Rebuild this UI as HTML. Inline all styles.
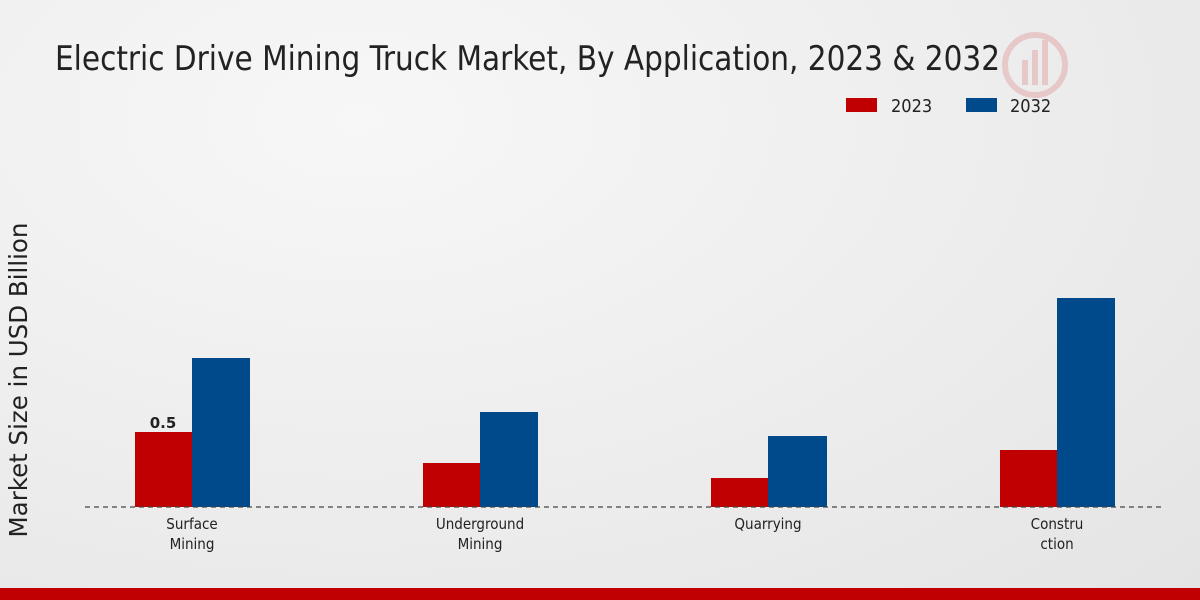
<!DOCTYPE html>
<html><head><meta charset="utf-8"><style>
html,body{margin:0;padding:0;width:1200px;height:600px;overflow:hidden}
body{background:radial-gradient(ellipse at 30% 20%,#f7f7f7 0%,#ececec 60%,#e4e4e4 100%)}
</style></head><body>
<svg width="1200" height="600" xmlns="http://www.w3.org/2000/svg" style="position:absolute;left:0;top:0">
<text x="55" y="70" font-family="DejaVu Sans Condensed, DejaVu Sans, sans-serif" font-size="34" fill="#222" textLength="945" lengthAdjust="spacingAndGlyphs">Electric Drive Mining Truck Market, By Application, 2023 &amp; 2032</text>
<g opacity="0.15" fill="#c00"><circle cx="1035" cy="65" r="30" fill="none" stroke="#c00" stroke-width="6"/><rect x="1022" y="60" width="6" height="25"/><rect x="1032" y="50" width="6" height="35"/><rect x="1042" y="40" width="6" height="45"/></g>
<rect x="846" y="98" width="31" height="14" fill="#c00000"/>
<text x="891" y="112" font-family="DejaVu Sans Condensed, DejaVu Sans, sans-serif" font-size="18" fill="#222">2023</text>
<rect x="966" y="98" width="31" height="14" fill="#004a8c"/>
<text x="1010" y="112" font-family="DejaVu Sans Condensed, DejaVu Sans, sans-serif" font-size="18" fill="#222">2032</text>
<text transform="translate(27,380) rotate(-90)" text-anchor="middle" font-family="DejaVu Sans, sans-serif" font-size="24.5" fill="#222">Market Size in USD Billion</text>
<g fill="#c00000">
<rect x="135" y="432" width="57" height="75"/>
<rect x="423" y="463" width="57" height="44"/>
<rect x="711" y="478" width="57" height="29"/>
<rect x="1000" y="450" width="57" height="57"/>
</g>
<g fill="#004a8c">
<rect x="192" y="358" width="58" height="149"/>
<rect x="480" y="412" width="58" height="95"/>
<rect x="768" y="436" width="59" height="71"/>
<rect x="1057" y="298" width="58" height="209"/>
</g>
<text x="163" y="428" text-anchor="middle" font-family="DejaVu Sans, sans-serif" font-weight="bold" font-size="15" fill="#222">0.5</text>
<line x1="85" y1="507" x2="1165" y2="507" stroke="#444" stroke-width="1.2" stroke-dasharray="5,4"/>
<g font-family="DejaVu Sans Condensed, DejaVu Sans, sans-serif" font-size="15" fill="#222" text-anchor="middle">
<text x="192" y="529">Surface</text><text x="192" y="549">Mining</text>
<text x="480" y="529">Underground</text><text x="480" y="549">Mining</text>
<text x="768" y="529">Quarrying</text>
<text x="1057" y="529">Constru</text><text x="1057" y="549">ction</text>
</g>
<rect x="0" y="588" width="1200" height="12" fill="#c00000"/>
</svg>
</body></html>
